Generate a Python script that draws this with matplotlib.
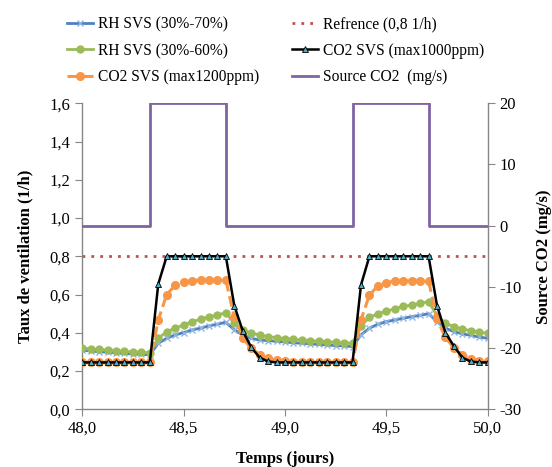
import matplotlib
matplotlib.use("Agg")
import matplotlib.pyplot as plt
import numpy as np

plt.rcParams['font.family'] = ['Liberation Serif', 'DejaVu Serif']

# hourly time stamps (days)
hours = list(range(49))
time_days = [48 + h / 24 for h in hours]

rh_70 = [0.308, 0.305, 0.301, 0.298, 0.295, 0.292, 0.289, 0.287, 0.285,
         0.345, 0.371, 0.389, 0.401, 0.415, 0.424, 0.436, 0.445, 0.455,
         0.415, 0.389, 0.371, 0.362, 0.359, 0.355, 0.352, 0.348, 0.345,
         0.342, 0.339, 0.336, 0.333, 0.331, 0.328,
         0.389, 0.424, 0.445, 0.458, 0.467, 0.476, 0.484, 0.491, 0.500,
         0.458, 0.424, 0.406, 0.395, 0.386, 0.378, 0.371]

rh_60 = [0.320, 0.316, 0.313, 0.309, 0.306, 0.303, 0.300, 0.298, 0.296,
         0.371, 0.406, 0.424, 0.441, 0.458, 0.470, 0.484, 0.493, 0.505,
         0.450, 0.415, 0.397, 0.389, 0.380, 0.375, 0.369, 0.366, 0.362,
         0.359, 0.356, 0.353, 0.350, 0.348, 0.345,
         0.437, 0.480, 0.500, 0.512, 0.526, 0.538, 0.545, 0.554, 0.563,
         0.490, 0.450, 0.432, 0.420, 0.411, 0.404, 0.397]

co2_1200 = [0.245] * 9 + \
           [0.467, 0.600, 0.648, 0.665, 0.672, 0.676, 0.676, 0.676, 0.676,
            0.480, 0.372, 0.320, 0.286, 0.267, 0.256, 0.250] + [0.245] * 8 + \
           [0.467, 0.598, 0.645, 0.660, 0.672, 0.672, 0.672, 0.672, 0.672,
            0.470, 0.376, 0.320, 0.285, 0.265, 0.255, 0.250]

co2_1000 = [0.245] * 9 + \
           [0.655, 0.80, 0.80, 0.80, 0.80, 0.80, 0.80, 0.80, 0.80,
            0.542, 0.410, 0.325, 0.270, 0.250] + [0.245] * 10 + \
           [0.650, 0.80, 0.80, 0.80, 0.80, 0.80, 0.80, 0.80, 0.80,
            0.542, 0.400, 0.330, 0.270, 0.250, 0.245, 0.245]

reference = [0.8] * 49

source_co2 = [0] * 8 + [20] * 9 + [0] * 15 + [20] * 9 + [0] * 8

x_ticks = [48.0, 48.5, 49.0, 49.5, 50.0]
x_ticklabels = ['48,0', '48,5', '49,0', '49,5', '50,0']
y_ticks = [0.0, 0.2, 0.4, 0.6, 0.8, 1.0, 1.2, 1.4, 1.6]
y_ticklabels = ['0,0', '0,2', '0,4', '0,6', '0,8', '1,0', '1,2', '1,4', '1,6']
y2_ticks = [-30, -20, -10, 0, 10, 20]
y2_ticklabels = ['-30', '-20', '-10', '0', '10', '20']

fig = plt.figure(figsize=(5.52, 4.67), dpi=100)
ax = fig.add_axes([0.149, 0.1236, 0.7345, 0.6552])
ax2 = ax.twinx()

spine_col = '#868686'

l_rh70, = ax.plot(time_days, rh_70, color='#4F81BD', lw=2.0, marker='x',
                  ms=4, mec='#8DB4E2', mew=1.0, zorder=3)
l_rh60, = ax.plot(time_days, rh_60, color='#9BBB59', lw=2.0, marker='o',
                  ms=5, mfc='#9BBB59', mec='#9BBB59', zorder=3)
l_1200, = ax.plot(time_days, co2_1200, color='#F79646', lw=2.2, ls=(0, (3.5, 1.6)),
                  marker='o', ms=5.5, mfc='#F79646', mec='#F79646', zorder=4)
l_1000, = ax.plot(time_days, co2_1000, color='black', lw=1.8, marker='^',
                  ms=4, mfc='#4BACC6', mec='black', mew=0.6, zorder=5)
l_ref, = ax.plot(time_days, reference, color='#C0504D', lw=2.0, ls=(0, (1, 2.2)),
                 zorder=2)
l_src, = ax2.plot(time_days, source_co2, color='#8064A2', lw=2.0,
                  drawstyle='steps-post')

ax.set_xlim(48, 50)
ax.set_ylim(0, 1.6)
ax2.set_ylim(-30, 20)

ax.set_xticks(x_ticks)
ax.set_xticklabels(x_ticklabels)
ax.set_yticks(y_ticks)
ax.set_yticklabels(y_ticklabels)
ax2.set_yticks(y2_ticks)
ax2.set_yticklabels(y2_ticklabels)

for a in (ax, ax2):
    a.spines['top'].set_visible(False)
    for s in ('left', 'right', 'bottom'):
        a.spines[s].set_color(spine_col)
        a.spines[s].set_linewidth(1.0)
    a.tick_params(direction='out', length=5, color=spine_col, labelsize=12,
                  labelcolor='black')
ax.spines['right'].set_visible(False)
ax2.spines['left'].set_visible(False)
ax2.spines['bottom'].set_visible(False)

ax.set_xlabel('Temps (jours)', fontsize=12, fontweight='bold', labelpad=10)
ax.set_ylabel('Taux de ventilation (1/h)', fontsize=12, fontweight='bold', labelpad=12)
ax2.set_ylabel('Source CO2 (mg/s)', fontsize=12, fontweight='bold', labelpad=10)

handles = [l_rh70, l_rh60, l_1200, l_ref, l_1000, l_src]
labels = ['RH SVS (30%-70%)', 'RH SVS (30%-60%)', 'CO2 SVS (max1200ppm)',
          'Refrence (0,8 1/h)', 'CO2 SVS (max1000ppm)', 'Source CO2  (mg/s)']
fig.legend(handles, labels, ncol=2, loc='upper left',
           bbox_to_anchor=(0.096, 0.995), frameon=False, fontsize=11.2,
           handlelength=1.7, handletextpad=0.3, columnspacing=2.1,
           labelspacing=0.68)

fig.savefig('out.png', dpi=100)
